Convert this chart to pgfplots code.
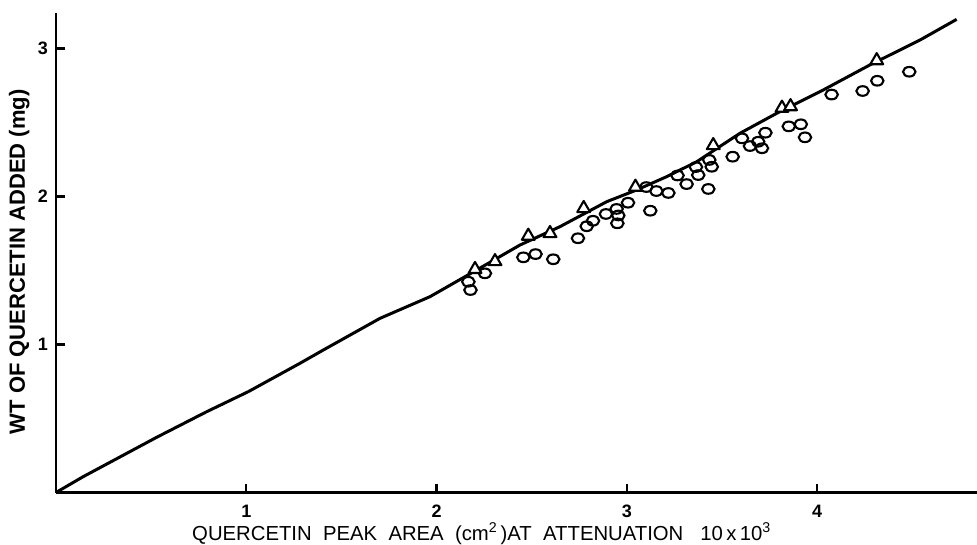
\documentclass[border=0pt]{standalone}
\usepackage{fontspec}
\setmainfont{Liberation Sans}
\usepackage{pgfplots}
\usepackage{pgfplotstable}
\pgfplotsset{compat=1.18}

% Calibration line (hand drawn through the standards)
\pgfplotstableread{
x      y
0.000  0.000
0.143  0.107
0.529  0.373
0.792  0.546
1.010  0.681
1.282  0.873
1.405  0.963
1.703  1.177
1.965  1.323
2.149  1.458
2.438  1.672
2.648  1.796
2.894  1.965
3.051  2.044
3.209  2.134
3.367  2.235
3.594  2.427
3.787  2.562
4.032  2.720
4.277  2.889
4.540  3.057
4.733  3.197
}\calline

\newcommand\tickfont{\fontsize{18}{18}\selectfont\bfseries}

\begin{document}
\begin{tikzpicture}
\useasboundingbox (-56pt,-51.5pt) rectangle (921pt,492.5pt);
\begin{axis}[
  at={(0,0)}, anchor=south west,
  scale only axis, width=921pt, height=479.5pt,
  xmin=0, xmax=4.84, ymin=0, ymax=3.24,
  axis x line*=bottom, axis y line*=left,
  axis line style={line width=2.8pt, -},
  xtick={1,2,3,4}, ytick={1,2,3},
  xticklabels={{\tickfont 1},{\tickfont 2},{\tickfont 3},{\tickfont 4}},
  yticklabels={{\tickfont 1},{\tickfont 2},{\tickfont 3}},
  tick align=inside, major tick length=9pt,
  tick style={line width=2.2pt, black},
  xticklabel style={anchor=base, yshift=-24.5pt},
  yticklabel style={anchor=center, xshift=-13pt},
  xlabel={QUERCETIN\ \ PEAK\ \ AREA\ \ (cm\textsuperscript{2}\,)AT\ \ ATTENUATION\ \ \ 10\,x\,10\textsuperscript{3}},
  ylabel={WT OF QUERCETIN ADDED (mg)},
  xlabel style={at={(axis description cs:0.462,0)}, anchor=base,
    yshift=-48pt, font=\fontsize{20.3}{20.3}\selectfont},
  ylabel style={at={(axis description cs:-0.040,0.481)}, anchor=center,
    font=\fontsize{22}{22}\selectfont\bfseries},
]
\addplot[line width=3pt, line join=round, no markers] table[x=x, y=y] {\calline};

% Samples (circles)
\addplot[only marks, mark=o, mark size=4.8pt,
  mark options={xscale=1.3, line width=2.1pt}] coordinates {
  (2.167,1.424) (2.178,1.368) (2.254,1.481) (2.456,1.589) (2.520,1.611)
  (2.613,1.576) (2.743,1.718) (2.789,1.799) (2.822,1.836) (2.890,1.882)
  (2.946,1.916) (2.955,1.872) (2.950,1.819) (3.006,1.958) (3.123,1.904)
  (3.102,2.064) (3.155,2.037) (3.218,2.024) (3.266,2.142) (3.314,2.084)
  (3.363,2.199) (3.375,2.145) (3.428,2.051) (3.433,2.247) (3.446,2.201)
  (3.556,2.269) (3.605,2.393) (3.647,2.341) (3.690,2.370) (3.710,2.326)
  (3.728,2.431) (3.851,2.474) (3.914,2.488) (3.936,2.400) (4.076,2.689)
  (4.239,2.713) (4.316,2.782) (4.484,2.843)
};

% Standards (triangles)
\addplot[only marks, mark=triangle*, mark size=7.4pt,
  mark options={fill=white, line width=2.1pt, line join=round}] coordinates {
  (2.202,1.508) (2.307,1.561) (2.482,1.733) (2.596,1.751) (2.773,1.920)
  (3.045,2.064) (3.454,2.345) (3.815,2.598) (3.860,2.608) (4.313,2.919)
};
\end{axis}
\end{tikzpicture}
\end{document}
